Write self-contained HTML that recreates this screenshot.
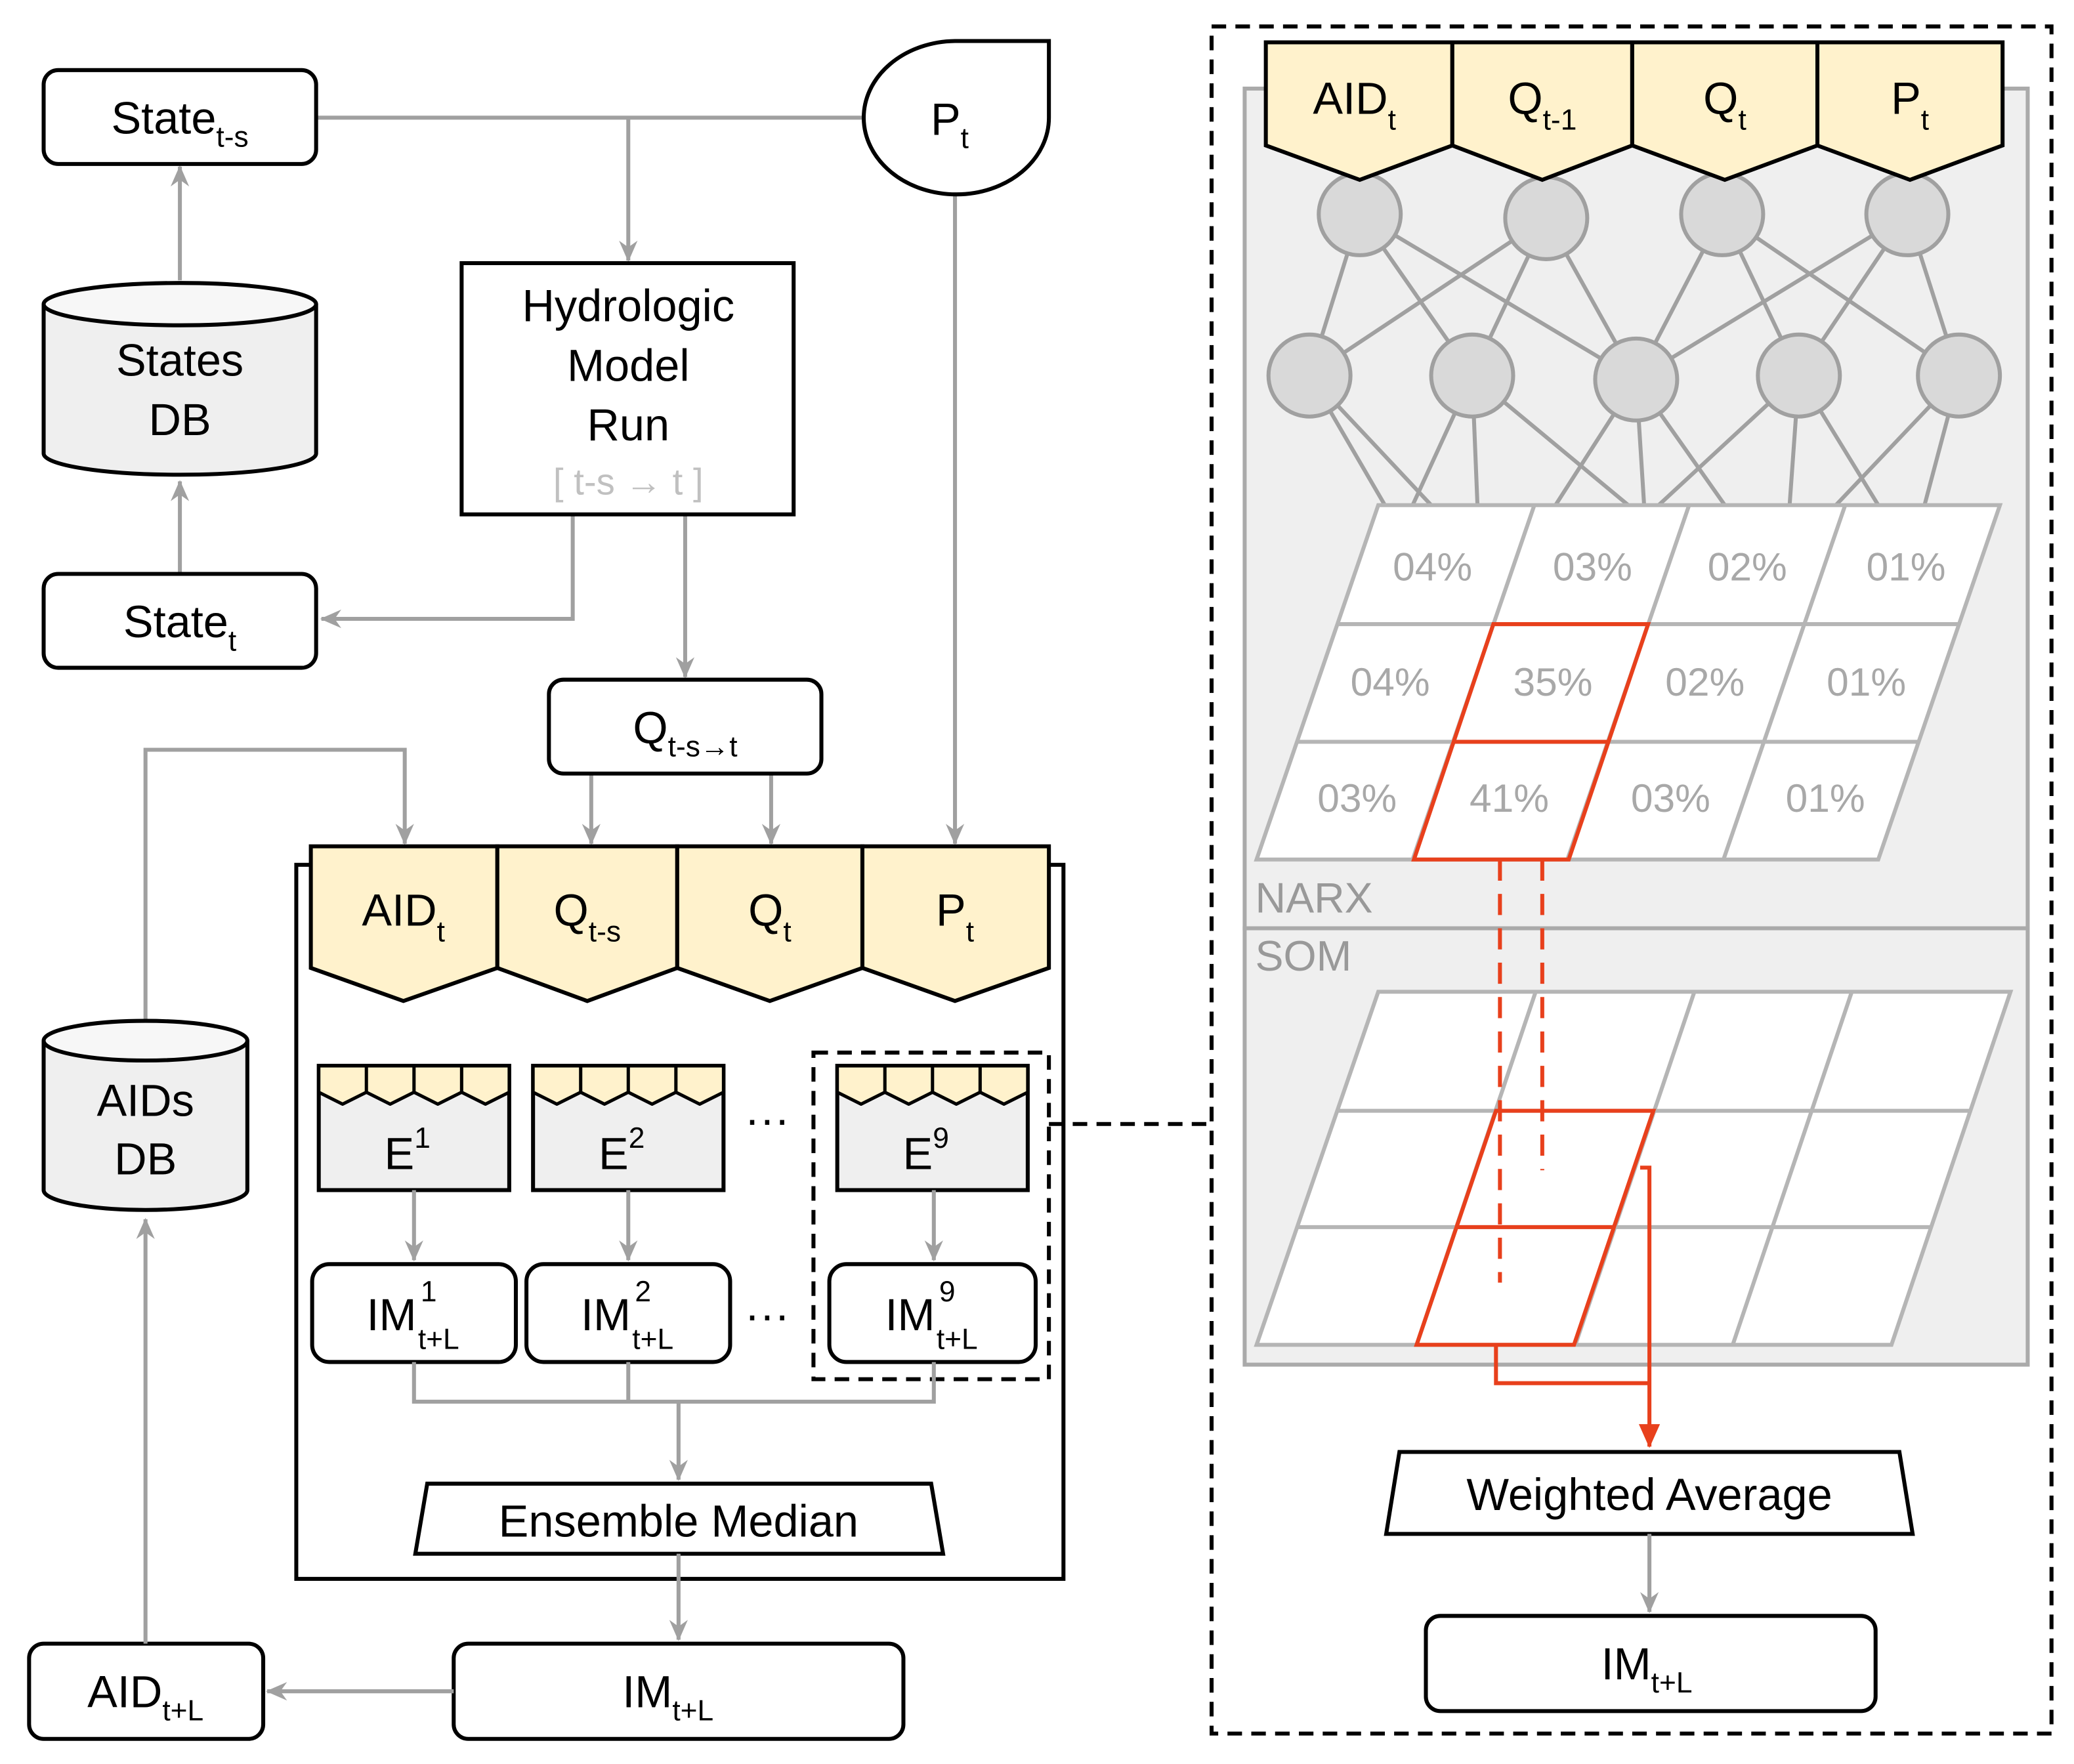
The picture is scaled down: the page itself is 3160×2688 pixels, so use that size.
<!DOCTYPE html>
<html><head><meta charset="utf-8">
<style>
html,body{margin:0;padding:0;background:#fff;}
svg{display:block;}
.n{font-family:"Liberation Sans Narrow","Liberation Sans",sans-serif;}
.a{font-family:"Liberation Sans",sans-serif;}
</style></head>
<body>
<svg width="3160" height="2688" viewBox="0 0 1568 1334" preserveAspectRatio="none" xmlns="http://www.w3.org/2000/svg">
<defs>
<marker id="g" viewBox="0 0 16 14" refX="15" refY="7" markerWidth="16" markerHeight="14" markerUnits="userSpaceOnUse" orient="auto" overflow="visible">
<path d="M0,0 L16,7 L0,14 L5,7 Z" fill="#a0a0a0"/>
</marker>
<marker id="r" viewBox="0 0 18 16" refX="17" refY="8" markerWidth="18" markerHeight="16" markerUnits="userSpaceOnUse" orient="auto" overflow="visible">
<path d="M0,0 L18,8 L0,16 Z" fill="#e8401c"/>
</marker>
</defs>
<style>
.gl{stroke:#a0a0a0;stroke-width:3;fill:none;}
.bx{stroke:#000;stroke-width:3;fill:#fff;}
.t{font-size:34px;fill:#000;}
.s{font-size:22px;}
</style>

<path class="gl" d="M239,89 H652"/>
<path class="gl" d="M475,89 V197" marker-end="url(#g)"/>
<path class="gl" d="M136,212 V126" marker-end="url(#g)"/>
<path class="gl" d="M136,434 V364" marker-end="url(#g)"/>
<path class="gl" d="M433,389 V468 H243" marker-end="url(#g)"/>
<path class="gl" d="M518,389 V512" marker-end="url(#g)"/>
<path class="gl" d="M722,148 V638" marker-end="url(#g)"/>
<path class="gl" d="M447,585 V638" marker-end="url(#g)"/>
<path class="gl" d="M583,585 V638" marker-end="url(#g)"/>
<path class="gl" d="M110,772 V567 H306 V638" marker-end="url(#g)"/>

<rect class="bx" x="33" y="53" width="206" height="71" rx="11"/>
<text class="n t" x="136" y="101" text-anchor="middle">State<tspan class="s" dy="10">t-s</tspan></text>
<path d="M33,230 V343 A103,16 0 0 0 239,343 V230" fill="#efefef" stroke="#000" stroke-width="3"/>
<ellipse cx="136" cy="230" rx="103" ry="16" fill="#f7f7f7" stroke="#000" stroke-width="3"/>
<text class="n t" x="136" y="284" text-anchor="middle">States</text>
<text class="n t" x="136" y="329" text-anchor="middle">DB</text>
<rect class="bx" x="33" y="434" width="206" height="71" rx="11"/>
<text class="n t" x="136" y="482" text-anchor="middle">State<tspan class="s" dy="10">t</tspan></text>

<rect class="bx" x="349" y="199" width="251" height="190"/>
<text class="n t" x="475" y="243" text-anchor="middle">Hydrologic</text>
<text class="n t" x="475" y="288" text-anchor="middle">Model</text>
<text class="n t" x="475" y="333" text-anchor="middle">Run</text>
<text class="n" x="475" y="374" text-anchor="middle" font-size="28" fill="#c0c0c0">[ t-s → t ]</text>

<path d="M793,31 V89 A70,58 0 1 1 722,31 Z" fill="#fff" stroke="#000" stroke-width="3"/>
<text class="n t" x="718" y="102" text-anchor="middle">P<tspan class="s" dy="10">t</tspan></text>

<rect class="bx" x="415" y="514" width="206" height="71" rx="11"/>
<text class="n t" x="518" y="562" text-anchor="middle">Q<tspan class="s" dy="10">t-s→t</tspan></text>

<rect x="224" y="654" width="580" height="540" fill="#fff" stroke="#000" stroke-width="3"/>
<g stroke="#000" stroke-width="3" fill="#fff2cc">
<path d="M235,640 H376 V732 L305,757 L235,732 Z"/>
<path d="M376,640 H512 V732 L444,757 L376,732 Z"/>
<path d="M512,640 H652 V732 L582,757 L512,732 Z"/>
<path d="M652,640 H793 V732 L722,757 L652,732 Z"/>
</g>
<text class="n t" x="305" y="700" text-anchor="middle">AID<tspan class="s" dy="12">t</tspan></text>
<text class="n t" x="444" y="700" text-anchor="middle">Q<tspan class="s" dy="12">t-s</tspan></text>
<text class="n t" x="582" y="700" text-anchor="middle">Q<tspan class="s" dy="12">t</tspan></text>
<text class="n t" x="722" y="700" text-anchor="middle">P<tspan class="s" dy="12">t</tspan></text>

<g id="E1">
<rect x="241" y="806" width="144" height="94" fill="#efefef" stroke="#000" stroke-width="3"/>
<path d="M241,806 H385 V826 L367,835 L349,826 L331,835 L313,826 L295,835 L277,826 L259,835 L241,826 Z" fill="#fff2cc" stroke="#000" stroke-width="2.5" stroke-linejoin="round"/>
<path d="M277,806 V826 M313,806 V826 M349,806 V826" stroke="#000" stroke-width="2.5"/>
</g>
<use href="#E1" x="162"/>
<use href="#E1" x="392"/>
<text class="n t" x="308" y="884" text-anchor="middle">E<tspan class="s" dy="-16">1</tspan></text>
<text class="n t" x="470" y="884" text-anchor="middle">E<tspan class="s" dy="-16">2</tspan></text>
<text class="n t" x="700" y="884" text-anchor="middle">E<tspan class="s" dy="-16">9</tspan></text>
<text class="n" x="580" y="858" text-anchor="middle" font-size="34">···</text>
<text class="n" x="580" y="1006" text-anchor="middle" font-size="34">···</text>

<path class="gl" d="M313,900 V953" marker-end="url(#g)"/>
<path class="gl" d="M475,900 V953" marker-end="url(#g)"/>
<path class="gl" d="M706,900 V953" marker-end="url(#g)"/>

<rect class="bx" x="236" y="956" width="154" height="74" rx="13"/>
<rect class="bx" x="398" y="956" width="154" height="74" rx="13"/>
<rect class="bx" x="627" y="956" width="156" height="74" rx="13"/>
<text class="n t" x="296" y="1006" text-anchor="middle">IM</text><text class="n s" x="318" y="984">1</text><text class="n s" x="316" y="1020">t+L</text>
<text class="n t" x="458" y="1006" text-anchor="middle">IM</text><text class="n s" x="480" y="984">2</text><text class="n s" x="478" y="1020">t+L</text>
<text class="n t" x="688" y="1006" text-anchor="middle">IM</text><text class="n s" x="710" y="984">9</text><text class="n s" x="708" y="1020">t+L</text>

<rect x="615" y="796" width="178" height="247" fill="none" stroke="#000" stroke-width="3" stroke-dasharray="11,7"/>

<path class="gl" d="M313,1030 V1060 H706 V1030 M475,1030 V1060"/>
<path class="gl" d="M513,1060 V1119" marker-end="url(#g)"/>
<path d="M323,1122 H704 L713,1175 H314 Z" fill="#fff" stroke="#000" stroke-width="3"/>
<text class="n t" x="513" y="1162" text-anchor="middle">Ensemble Median</text>
<path class="gl" d="M513,1175 V1240" marker-end="url(#g)"/>

<rect class="bx" x="343" y="1243" width="340" height="72" rx="11"/>
<text class="n t" x="505" y="1291" text-anchor="middle">IM<tspan class="s" dy="10">t+L</tspan></text>
<path class="gl" d="M343,1279 H202" marker-end="url(#g)"/>
<rect class="bx" x="22" y="1243" width="177" height="72" rx="11"/>
<text class="n t" x="110" y="1291" text-anchor="middle">AID<tspan class="s" dy="10">t+L</tspan></text>
<path class="gl" d="M110,1243 V922" marker-end="url(#g)"/>

<path d="M33,787 V900 A77,15 0 0 0 187,900 V787" fill="#efefef" stroke="#000" stroke-width="3"/>
<ellipse cx="110" cy="787" rx="77" ry="15" fill="#f7f7f7" stroke="#000" stroke-width="3"/>
<text class="n t" x="110" y="844" text-anchor="middle">AIDs</text>
<text class="n t" x="110" y="888" text-anchor="middle">DB</text>

<path d="M793,850 H916" stroke="#000" stroke-width="3" stroke-dasharray="11,7"/>

<rect x="916" y="20" width="635" height="1291" fill="none" stroke="#000" stroke-width="3" stroke-dasharray="11,7"/>
<rect x="941" y="67" width="592" height="635" fill="#efefef" stroke="#aaa" stroke-width="3"/>
<rect x="941" y="702" width="592" height="330" fill="#efefef" stroke="#aaa" stroke-width="3"/>
<text class="a" x="949" y="690" font-size="32" fill="#999">NARX</text>
<text class="a" x="949" y="734" font-size="32" fill="#999">SOM</text>

<g stroke="#a0a0a0" stroke-width="3">
<line x1="1028" y1="162" x2="990" y2="284"/><line x1="1028" y1="162" x2="1113" y2="284"/><line x1="1028" y1="162" x2="1237" y2="287"/>
<line x1="1169" y1="165" x2="990" y2="284"/><line x1="1169" y1="165" x2="1113" y2="284"/><line x1="1169" y1="165" x2="1237" y2="287"/>
<line x1="1302" y1="162" x2="1237" y2="287"/><line x1="1302" y1="162" x2="1360" y2="284"/><line x1="1302" y1="162" x2="1481" y2="284"/>
<line x1="1442" y1="162" x2="1237" y2="287"/><line x1="1442" y1="162" x2="1360" y2="284"/><line x1="1442" y1="162" x2="1481" y2="284"/>
<line x1="990" y1="284" x2="1047" y2="382"/><line x1="990" y1="284" x2="1082" y2="382"/>
<line x1="1113" y1="284" x2="1068" y2="382"/><line x1="1113" y1="284" x2="1117" y2="382"/><line x1="1113" y1="284" x2="1231" y2="382"/>
<line x1="1237" y1="287" x2="1176" y2="382"/><line x1="1237" y1="287" x2="1243" y2="382"/><line x1="1237" y1="287" x2="1304" y2="382"/>
<line x1="1360" y1="284" x2="1254" y2="382"/><line x1="1360" y1="284" x2="1353" y2="382"/><line x1="1360" y1="284" x2="1420" y2="382"/>
<line x1="1481" y1="284" x2="1388" y2="382"/><line x1="1481" y1="284" x2="1455" y2="382"/>
</g>
<g fill="#d9d9d9" stroke="#a0a0a0" stroke-width="3">
<circle cx="1028" cy="162" r="31"/><circle cx="1169" cy="165" r="31"/><circle cx="1302" cy="162" r="31"/><circle cx="1442" cy="162" r="31"/>
<circle cx="990" cy="284" r="31"/><circle cx="1113" cy="284" r="31"/><circle cx="1237" cy="287" r="31"/><circle cx="1360" cy="284" r="31"/><circle cx="1481" cy="284" r="31"/>
</g>

<g stroke="#000" stroke-width="3" fill="#fff2cc">
<path d="M957,32 H1098 V110 L1028,136 L957,110 Z"/>
<path d="M1098,32 H1234 V110 L1166,136 L1098,110 Z"/>
<path d="M1234,32 H1374 V110 L1304,136 L1234,110 Z"/>
<path d="M1374,32 H1514 V110 L1444,136 L1374,110 Z"/>
</g>
<text class="a t" x="1024" y="86" text-anchor="middle">AID<tspan class="s" dy="12">t</tspan></text>
<text class="a t" x="1166" y="86" text-anchor="middle">Q<tspan class="s" dy="12">t-1</tspan></text>
<text class="a t" x="1304" y="86" text-anchor="middle">Q<tspan class="s" dy="12">t</tspan></text>
<text class="a t" x="1444" y="86" text-anchor="middle">P<tspan class="s" dy="12">t</tspan></text>

<path d="M1042,382 H1512 L1420,650 H950 Z" fill="#fff" stroke="#b5b5b5" stroke-width="3"/>
<g stroke="#b5b5b5" stroke-width="3">
<line x1="1011" y1="472" x2="1481" y2="472"/><line x1="981" y1="561" x2="1451" y2="561"/>
<line x1="1160" y1="382" x2="1068" y2="650"/><line x1="1277" y1="382" x2="1185" y2="650"/><line x1="1395" y1="382" x2="1303" y2="650"/>
</g>
<g class="a" font-size="30" fill="#a8a8a8" text-anchor="middle">
<text x="1083" y="439">04%</text><text x="1204" y="439">03%</text><text x="1321" y="439">02%</text><text x="1441" y="439">01%</text>
<text x="1051" y="526">04%</text><text x="1174" y="526">35%</text><text x="1289" y="526">02%</text><text x="1411" y="526">01%</text>
<text x="1026" y="614">03%</text><text x="1141" y="614">41%</text><text x="1263" y="614">03%</text><text x="1380" y="614">01%</text>
</g>
<path d="M1129,472 H1246 L1186,650 H1069 Z M1099,561 H1216" fill="none" stroke="#e8401c" stroke-width="3"/>

<path d="M1042,750 H1520 L1430,1017 H950 Z" fill="#fff" stroke="#b5b5b5" stroke-width="3"/>
<g stroke="#b5b5b5" stroke-width="3">
<line x1="1011" y1="840" x2="1489" y2="840"/><line x1="981" y1="928" x2="1460" y2="928"/>
<line x1="1161" y1="750" x2="1071" y2="1017"/><line x1="1281" y1="750" x2="1191" y2="1017"/><line x1="1400" y1="750" x2="1310" y2="1017"/>
</g>
<path d="M1131,840 H1250 L1190,1017 H1071 Z M1101,928 H1220" fill="none" stroke="#e8401c" stroke-width="3"/>
<path d="M1134,650 V970 M1166,650 V885" stroke="#e8401c" stroke-width="3" stroke-dasharray="16,10"/>
<path d="M1131,1017 V1046 H1247" fill="none" stroke="#e8401c" stroke-width="3"/>
<path d="M1240,883 H1247 V1094" fill="none" stroke="#e8401c" stroke-width="3" marker-end="url(#r)"/>

<path d="M1058,1098 H1436 L1446,1160 H1048 Z" fill="#fff" stroke="#000" stroke-width="3"/>
<text class="a t" x="1247" y="1142" text-anchor="middle">Weighted Average</text>
<path class="gl" d="M1247,1160 V1219" marker-end="url(#g)"/>
<rect class="bx" x="1078" y="1222" width="340" height="72" rx="11"/>
<text class="a t" x="1245" y="1270" text-anchor="middle">IM<tspan class="s" dy="10">t+L</tspan></text>
</svg>
</body></html>
